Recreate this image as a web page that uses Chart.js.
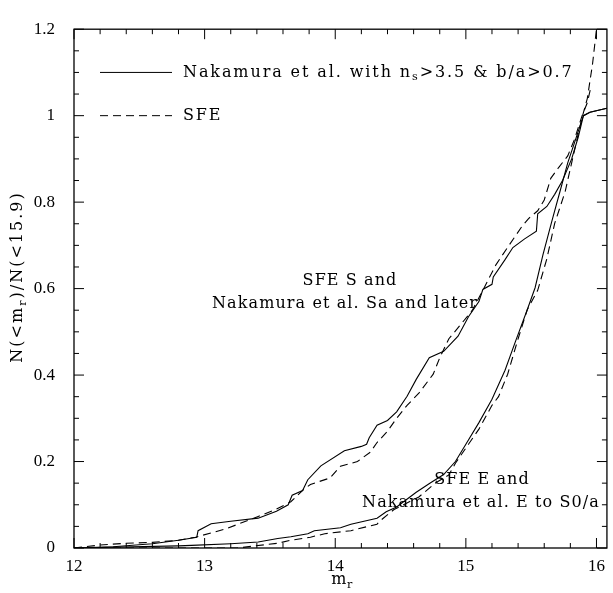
<!DOCTYPE html>
<html>
<head>
<meta charset="utf-8">
<script src="https://cdn.jsdelivr.net/npm/chart.js@4"></script>
<style>
  html, body { margin: 0; padding: 0; background: #fff; }
  #wrap { width: 613px; height: 593px; }
</style>
</head>
<body>
<div id="wrap"><canvas id="myChart"></canvas></div>
<script>
// Nakamura et al. Sa and later (solid)
var nakSX = [12.0, 12.3, 12.6, 12.8, 12.94, 12.95, 13.05, 13.2, 13.41, 13.55, 13.64, 13.67, 13.75, 13.79, 13.89, 14.07, 14.2, 14.24, 14.26, 14.32, 14.4, 14.47, 14.55, 14.62, 14.72, 14.83, 14.94, 15.02, 15.1, 15.13, 15.2, 15.21, 15.3, 15.36, 15.45, 15.54, 15.55, 15.62, 15.68, 15.74, 15.81, 15.86, 15.9, 15.95, 16.08];
var nakSY = [0, 0.003, 0.01, 0.018, 0.025, 0.04, 0.056, 0.062, 0.069, 0.085, 0.1, 0.122, 0.133, 0.158, 0.19, 0.225, 0.235, 0.24, 0.255, 0.284, 0.295, 0.315, 0.351, 0.39, 0.44, 0.455, 0.49, 0.535, 0.57, 0.598, 0.61, 0.627, 0.667, 0.695, 0.715, 0.733, 0.773, 0.79, 0.818, 0.85, 0.9, 0.95, 1.0, 1.008, 1.017];

// SFE S (dashed)
var sfeSX = [12.0, 12.2, 12.4, 12.6, 12.8, 12.93, 13.16, 13.41, 13.55, 13.66, 13.76, 13.81, 13.96, 14.04, 14.17, 14.27, 14.32, 14.4, 14.47, 14.55, 14.64, 14.75, 14.8, 14.87, 14.95, 15.05, 15.13, 15.23, 15.33, 15.43, 15.48, 15.55, 15.6, 15.65, 15.71, 15.78, 15.83, 15.89, 15.93, 15.96];
var sfeSY = [0, 0.007, 0.011, 0.013, 0.018, 0.025, 0.044, 0.073, 0.09, 0.107, 0.136, 0.147, 0.162, 0.189, 0.2, 0.222, 0.244, 0.27, 0.3, 0.33, 0.358, 0.402, 0.44, 0.484, 0.513, 0.55, 0.596, 0.655, 0.7, 0.744, 0.762, 0.78, 0.805, 0.855, 0.88, 0.907, 0.944, 1.0, 1.03, 1.07];

// Nakamura et al. E to S0/a (solid)
var nakEX = [12.0, 12.8, 12.9, 13.2, 13.41, 13.56, 13.66, 13.79, 13.84, 14.04, 14.12, 14.22, 14.32, 14.39, 14.47, 14.62, 14.73, 14.83, 14.92, 15.0, 15.1, 15.2, 15.3, 15.38, 15.47, 15.53, 15.59, 15.66, 15.72, 15.78, 15.83, 15.9, 15.95, 16.08];
var nakEY = [0, 0.005, 0.006, 0.01, 0.014, 0.022, 0.026, 0.033, 0.04, 0.047, 0.055, 0.062, 0.069, 0.084, 0.095, 0.129, 0.151, 0.17, 0.2, 0.24, 0.29, 0.344, 0.411, 0.478, 0.551, 0.602, 0.678, 0.758, 0.824, 0.891, 0.936, 1.0, 1.008, 1.017];

// SFE E (dashed)
var sfeEX = [12.0, 13.25, 13.56, 13.66, 13.81, 13.92, 14.12, 14.17, 14.32, 14.34, 14.45, 14.64, 14.77, 14.87, 14.92, 15.02, 15.1, 15.2, 15.25, 15.32, 15.4, 15.47, 15.55, 15.62, 15.68, 15.76, 15.81, 15.85, 15.89, 15.93, 15.97, 16.0];
var sfeEY = [0, 0, 0.011, 0.018, 0.025, 0.033, 0.04, 0.044, 0.055, 0.062, 0.089, 0.118, 0.151, 0.169, 0.196, 0.24, 0.275, 0.33, 0.35, 0.402, 0.484, 0.551, 0.596, 0.669, 0.751, 0.824, 0.891, 0.944, 0.996, 1.04, 1.12, 1.2];

var xMajorTicks = [12, 13, 14, 15, 16];
var xMinorTicks = [12.2, 12.4, 12.6, 12.8, 13.2, 13.4, 13.6, 13.8, 14.2, 14.4, 14.6, 14.8, 15.2, 15.4, 15.6, 15.8];
var yMajorTicks = [0, 0.2, 0.4, 0.6, 0.8, 1, 1.2];
var yMinorTicks = [0.05, 0.1, 0.15, 0.25, 0.3, 0.35, 0.45, 0.5, 0.55, 0.65, 0.7, 0.75, 0.85, 0.9, 0.95, 1.05, 1.1, 1.15];

var serif = "'DejaVu Serif', serif";
var tickFont = "'Liberation Serif', serif";

function toPoints(xs, ys) {
  return xs.map((x, i) => ({ x: x, y: ys[i] }));
}

// text with a subscript part: parts = [[text, isSub], ...]
function drawRich(ctx, parts, x, y, size, align, spacing) {
  ctx.letterSpacing = (spacing || 0) + "px";
  var total = 0;
  parts.forEach((p) => {
    ctx.font = (p[1] ? size * 0.7 : size) + "px " + serif;
    total += ctx.measureText(p[0]).width;
  });
  var cx = align === "center" ? x - total / 2 : x;
  parts.forEach((p) => {
    ctx.font = (p[1] ? size * 0.7 : size) + "px " + serif;
    ctx.textAlign = "left";
    ctx.fillText(p[0], cx, p[1] ? y + size * 0.3 : y);
    cx += ctx.measureText(p[0]).width;
  });
  ctx.letterSpacing = "0px";
}

var framePlugin = {
  id: "frame",
  afterDraw(chart) {
    var ctx = chart.ctx;
    var a = chart.chartArea;
    var xs = chart.scales.x, ys = chart.scales.y;
    ctx.save();
    ctx.strokeStyle = "#000";
    ctx.lineWidth = 1.3;
    ctx.strokeRect(a.left, a.top, a.right - a.left, a.bottom - a.top);
    ctx.lineWidth = 1;
    ctx.beginPath();
    xMajorTicks.forEach((v) => {
      var p = xs.getPixelForValue(v);
      ctx.moveTo(p, a.bottom); ctx.lineTo(p, a.bottom - 10);
      ctx.moveTo(p, a.top); ctx.lineTo(p, a.top + 10);
    });
    xMinorTicks.forEach((v) => {
      var p = xs.getPixelForValue(v);
      ctx.moveTo(p, a.bottom); ctx.lineTo(p, a.bottom - 5);
      ctx.moveTo(p, a.top); ctx.lineTo(p, a.top + 5);
    });
    yMajorTicks.forEach((v) => {
      var p = ys.getPixelForValue(v);
      ctx.moveTo(a.left, p); ctx.lineTo(a.left + 10, p);
      ctx.moveTo(a.right, p); ctx.lineTo(a.right - 10, p);
    });
    yMinorTicks.forEach((v) => {
      var p = ys.getPixelForValue(v);
      ctx.moveTo(a.left, p); ctx.lineTo(a.left + 5, p);
      ctx.moveTo(a.right, p); ctx.lineTo(a.right - 5, p);
    });
    ctx.stroke();

    // legend
    ctx.fillStyle = "#000";
    ctx.textBaseline = "middle";
    var ly1 = ys.getPixelForValue(1.1), ly2 = ys.getPixelForValue(1.0);
    ctx.beginPath();
    ctx.moveTo(100, ly1); ctx.lineTo(172, ly1);
    ctx.stroke();
    ctx.setLineDash([8, 5]);
    ctx.beginPath();
    ctx.moveTo(100, ly2); ctx.lineTo(172, ly2);
    ctx.stroke();
    ctx.setLineDash([]);
    drawRich(ctx, [["Nakamura et al. with n", false], ["s", true], [">3.5 & b/a>0.7", false]], 183, ly1, 16, "left", 1.9);
    drawRich(ctx, [["SFE", false]], 183, ly2, 16, "left", 1.9);

    // curve labels
    drawRich(ctx, [["SFE S and", false]], 350, 281, 16, "center", 1.1);
    drawRich(ctx, [["Nakamura et al. Sa and later", false]], 345, 304, 16, "center", 1.1);
    drawRich(ctx, [["SFE E and", false]], 482, 480, 16, "center", 1.1);
    drawRich(ctx, [["Nakamura et al. E to S0/a", false]], 481, 503, 16, "center", 1.1);

    // axis titles
    drawRich(ctx, [["m", false], ["r", true]], 342, 580, 16, "center", 0.5);
    ctx.translate(18, 277);
    ctx.rotate(-Math.PI / 2);
    drawRich(ctx, [["N(<m", false], ["r", true], [")/N(<15.9)", false]], 0, 0, 16, "center", 2);
    ctx.restore();
  },
};

var ctx = document.getElementById("myChart").getContext("2d");
var chart = new Chart(ctx, {
  type: "scatter",
  data: {
    datasets: [
      { label: "Nakamura S", data: toPoints(nakSX, nakSY), borderColor: "#000", borderWidth: 1.1, showLine: true, pointRadius: 0, tension: 0 },
      { label: "SFE S", data: toPoints(sfeSX, sfeSY), borderColor: "#000", borderWidth: 1.1, borderDash: [8, 5], showLine: true, pointRadius: 0, tension: 0 },
      { label: "Nakamura E", data: toPoints(nakEX, nakEY), borderColor: "#000", borderWidth: 1.1, showLine: true, pointRadius: 0, tension: 0 },
      { label: "SFE E", data: toPoints(sfeEX, sfeEY), borderColor: "#000", borderWidth: 1.1, borderDash: [8, 5], showLine: true, pointRadius: 0, tension: 0 },
    ],
  },
  options: {
    responsive: true,
    maintainAspectRatio: false,
    animation: false,
    layout: { padding: { top: 9, right: 1, left: 0, bottom: 0 } },
    plugins: { legend: { display: false }, tooltip: { enabled: false } },
    scales: {
      x: {
        type: "linear",
        min: 12,
        max: 16.08,
        afterFit: (s) => { s.height = 45; },
        afterBuildTicks: (s) => { s.ticks = xMajorTicks.map((v) => ({ value: v })); },
        grid: { display: false, drawTicks: false },
        border: { display: false },
        ticks: { color: "#000", padding: 8, maxRotation: 0, font: { family: tickFont, size: 17 }, callback: (v) => String(v) },
      },
      y: {
        type: "linear",
        min: 0,
        max: 1.2,
        afterFit: (s) => { s.width = 74; },
        afterBuildTicks: (s) => { s.ticks = yMajorTicks.map((v) => ({ value: v })); },
        grid: { display: false, drawTicks: false },
        border: { display: false },
        ticks: { color: "#000", padding: 19, font: { family: tickFont, size: 17 }, callback: (v) => String(v) },
      },
    },
  },
  plugins: [framePlugin],
});
</script>
</body>
</html>
